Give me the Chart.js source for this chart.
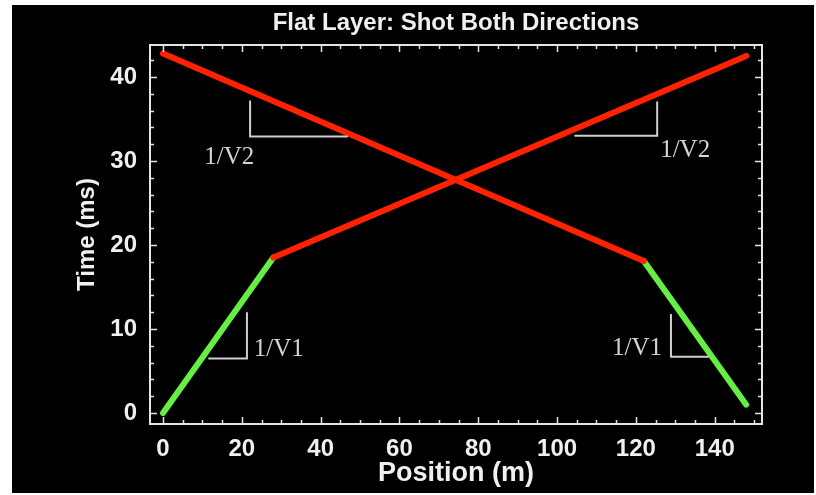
<!DOCTYPE html>
<html>
<head>
<meta charset="utf-8">
<script src="https://cdn.jsdelivr.net/npm/chart.js@4.4.1/dist/chart.umd.min.js"></script>
<style>
html, body { margin: 0; padding: 0; background: #fff; }
#wrap { position: absolute; left: 12px; top: 5px; width: 802px; height: 488px; background: #000; }
</style>
</head>
<body>
<div id="wrap"><canvas id="c" width="802" height="488"></canvas></div>
<script>
// forward shot (source at 0 m)
const fwdDirectX = [0, 28];
const fwdDirectY = [0, 18.5];
const fwdRefrX = [28, 148];
const fwdRefrY = [18.5, 42.5];
// reverse shot (source at 148 m)
const revDirectX = [148, 122];
const revDirectY = [1.0, 18.1];
const revRefrX = [122, 0];
const revRefrY = [18.1, 42.8];

// slope triangles, null breaks the line
const slopeX = [22.1, 22.1, 46.7, null, 104.6, 125.4, 125.4, null, 21.3, 21.3, 11.7, null, 128.9, 128.9, 138.3];
const slopeY = [37.1, 32.9, 32.9, null, 33.0, 33.0, 37.0, null, 11.9, 6.5, 6.5, null, 11.7, 6.7, 6.7];

const noteText = ['1/V2', '1/V2', '1/V1', '1/V1'];
const noteX = [16.8, 132.5, 29.4, 120.3];
const noteY = [30.4, 31.2, 7.6, 7.7];

const xTicks = [0, 20, 40, 60, 80, 100, 120, 140];
const yTicks = [0, 10, 20, 30, 40];

const pts = (xs, ys) => xs.map((x, i) => ({ x: x, y: ys[i] }));

const WHITE = '#f0f0f0';
const RED = '#ff2200';
const GREEN = '#66ee44';
const SANS = "'Liberation Sans', Arial, sans-serif";
const boldFont = { family: SANS, size: 24, weight: 'bold', lineHeight: 1.2 };

const line = (data, color, w) => ({
	data: data,
	showLine: true,
	borderColor: color,
	backgroundColor: color,
	borderWidth: w,
	pointRadius: 0,
	borderCapStyle: 'round',
	spanGaps: false
});

const framePlugin = {
	id: 'frame',
	afterDatasetsDraw(chart) {
		const { ctx, chartArea: a, scales: { x, y } } = chart;
		ctx.save();
		ctx.strokeStyle = '#e4e4e4';
		ctx.lineWidth = 2;
		ctx.strokeRect(a.left, a.top, a.right - a.left, a.bottom - a.top);
		ctx.lineWidth = 1.5;
		ctx.beginPath();
		for (let v = 0; v <= 150; v += 5) {
			const px = Math.round(x.getPixelForValue(v)) + 0.5;
			const len = v % 20 === 0 ? 7 : 4;
			ctx.moveTo(px, a.bottom); ctx.lineTo(px, a.bottom - len);
			ctx.moveTo(px, a.top); ctx.lineTo(px, a.top + len);
		}
		for (let v = 0; v <= 42; v += 2) {
			const py = Math.round(y.getPixelForValue(v)) + 0.5;
			const len = v % 10 === 0 ? 7 : 4;
			ctx.moveTo(a.left, py); ctx.lineTo(a.left + len, py);
			ctx.moveTo(a.right, py); ctx.lineTo(a.right - len, py);
		}
		ctx.stroke();

		ctx.fillStyle = '#d4d4d4';
		ctx.font = "25px 'Liberation Serif', 'Times New Roman', serif";
		ctx.textAlign = 'center';
		ctx.textBaseline = 'middle';
		noteText.forEach((t, i) => {
			ctx.fillText(t, x.getPixelForValue(noteX[i]), y.getPixelForValue(noteY[i]));
		});
		ctx.restore();
	}
};

new Chart(document.getElementById('c'), {
	type: 'scatter',
	data: {
		datasets: [
			line(pts(slopeX, slopeY), '#cfcfcf', 2),
			line(pts(fwdRefrX, fwdRefrY), RED, 6),
			line(pts(revRefrX, revRefrY), RED, 6),
			line(pts(fwdDirectX, fwdDirectY), GREEN, 6),
			line(pts(revDirectX, revDirectY), GREEN, 6)
		]
	},
	options: {
		responsive: false,
		animation: false,
		devicePixelRatio: 1,
		layout: { padding: { left: 0, right: 52, top: 0, bottom: 0 } },
		plugins: {
			legend: { display: false },
			tooltip: { enabled: false },
			title: {
				display: true,
				fullSize: false,
				text: 'Flat Layer: Shot Both Directions',
				color: WHITE,
				font: boldFont,
				padding: { top: 3.5, bottom: 7.7 }
			}
		},
		scales: {
			x: {
				type: 'linear',
				min: -3.3,
				max: 152,
				grid: { display: false, drawTicks: false },
				border: { display: false },
				afterBuildTicks: s => { s.ticks = xTicks.map(v => ({ value: v })); },
				afterFit: s => { s.height = 69; },
				ticks: { color: WHITE, font: boldFont, padding: 11, maxRotation: 0 },
				title: { display: true, text: 'Position (m)', color: WHITE, font: { family: SANS, size: 27, weight: 'bold', lineHeight: 1.2 }, padding: { top: 0, bottom: 3 } }
			},
			y: {
				type: 'linear',
				min: -1.3,
				max: 43.8,
				grid: { display: false, drawTicks: false },
				border: { display: false },
				afterBuildTicks: s => { s.ticks = yTicks.map(v => ({ value: v })); },
				afterFit: s => { s.width = 138; },
				ticks: { color: WHITE, font: boldFont, padding: 13 },
				title: { display: true, text: 'Time (ms)', color: WHITE, font: boldFont, padding: { top: 61, bottom: 0 } }
			}
		}
	},
	plugins: [framePlugin]
});
</script>
</body>
</html>
